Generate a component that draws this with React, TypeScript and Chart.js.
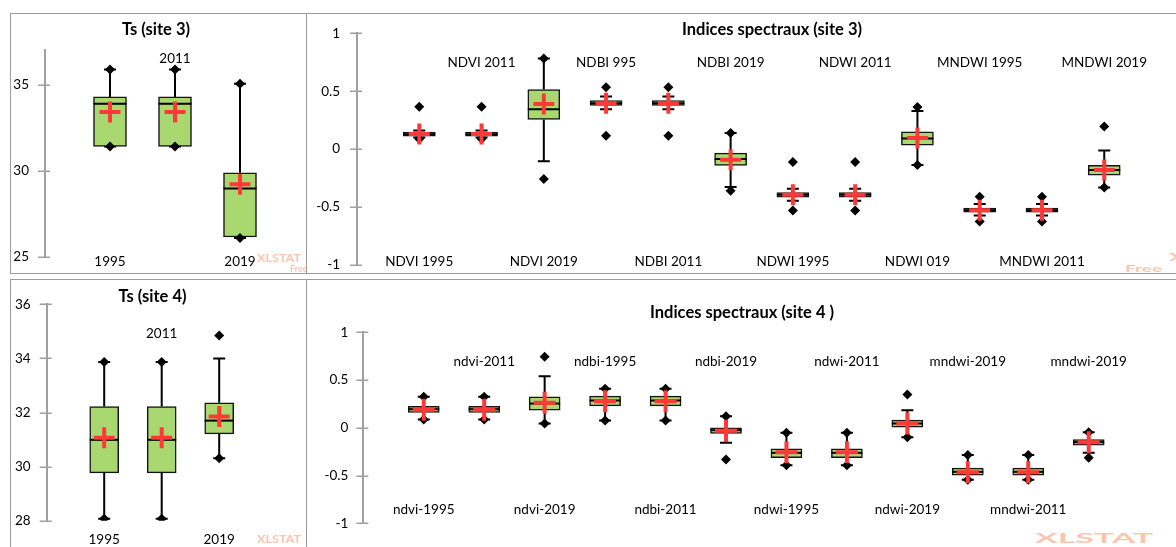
import React, { useEffect, useRef } from "react";
import { Chart, registerables } from "chart.js";
Chart.register(...registerables);

// ---------------- DATA ----------------
// Ts (site 3)
const ts3Labels = ["1995", "2011", "2019"];
const ts3WhiskerLow = [31.41, 31.41, 26.1];
const ts3Q1 = [31.41, 31.41, 26.16];
const ts3Median = [33.88, 33.88, 28.97];
const ts3Q3 = [34.28, 34.28, 29.88];
const ts3WhiskerHigh = [35.87, 35.87, 35.04];
const ts3Mean = [33.4, 33.4, 29.22];
const ts3Min = [31.41, 31.41, 26.1];
const ts3Max = [35.87, 35.87, 35.04];
const ts3Ticks = [25, 30, 35];

// Indices spectraux (site 3)
const idx3Labels = ["NDVI 1995", "NDVI 2011", "NDVI 2019", "NDBI 995", "NDBI 2011", "NDBI 2019", "NDWI 1995", "NDWI 2011", "NDWI 019", "MNDWI 1995", "MNDWI 2011", "MNDWI 2019"];
const idx3WhiskerLow = [0.1, 0.1, -0.104, 0.345, 0.345, -0.328, -0.446, -0.446, -0.138, -0.573, -0.573, -0.332];
const idx3Q1 = [0.111, 0.111, 0.256, 0.378, 0.378, -0.141, -0.415, -0.415, 0.035, -0.545, -0.545, -0.225];
const idx3Median = [0.128, 0.128, 0.345, 0.397, 0.397, -0.086, -0.395, -0.395, 0.092, -0.527, -0.527, -0.181];
const idx3Q3 = [0.147, 0.147, 0.515, 0.418, 0.418, -0.035, -0.375, -0.375, 0.149, -0.51, -0.51, -0.141];
const idx3WhiskerHigh = [0.16, 0.16, 0.783, 0.454, 0.454, 0.138, -0.343, -0.343, 0.33, -0.475, -0.475, -0.012];
const idx3Mean = [0.13, 0.13, 0.389, 0.397, 0.397, -0.092, -0.395, -0.395, 0.095, -0.527, -0.527, -0.18];
const idx3Min = [0.087, 0.087, -0.259, 0.115, 0.115, -0.36, -0.53, -0.53, -0.138, -0.625, -0.625, -0.332];
const idx3Max = [0.365, 0.365, 0.783, 0.535, 0.535, 0.138, -0.112, -0.112, 0.363, -0.412, -0.412, 0.195];
const idx3Ticks = [-1, -0.5, 0, 0.5, 1];

// Ts (site 4)
const ts4Labels = ["1995", "2011", "2019"];
const ts4WhiskerLow = [28.07, 28.07, 30.31];
const ts4Q1 = [29.77, 29.77, 31.21];
const ts4Median = [30.99, 30.99, 31.7];
const ts4Q3 = [32.22, 32.22, 32.36];
const ts4WhiskerHigh = [33.87, 33.87, 34.0];
const ts4Mean = [31.07, 31.07, 31.85];
const ts4Min = [28.07, 28.07, 30.31];
const ts4Max = [33.87, 33.87, 34.85];
const ts4Ticks = [28, 30, 32, 34, 36];

// Indices spectraux (site 4 )
const idx4Labels = ["ndvi-1995", "ndvi-2011", "ndvi-2019", "ndbi-1995", "ndbi-2011", "ndbi-2019", "ndwi-1995", "ndwi-2011", "ndwi-2019", "mndwi-2019", "mndwi-2011", "mndwi-2019"];
const idx4WhiskerLow = [0.087, 0.087, 0.045, 0.076, 0.076, -0.157, -0.391, -0.391, -0.098, -0.545, -0.545, -0.262];
const idx4Q1 = [0.16, 0.16, 0.184, 0.23, 0.23, -0.06, -0.314, -0.314, 0.006, -0.496, -0.496, -0.182];
const idx4Median = [0.195, 0.195, 0.254, 0.286, 0.286, -0.025, -0.262, -0.262, 0.045, -0.461, -0.461, -0.15];
const idx4Q3 = [0.226, 0.226, 0.325, 0.331, 0.331, 0.0, -0.22, -0.22, 0.08, -0.423, -0.423, -0.123];
const idx4WhiskerHigh = [0.325, 0.325, 0.54, 0.408, 0.408, 0.122, -0.052, -0.052, 0.184, -0.285, -0.285, -0.046];
const idx4Mean = [0.19, 0.19, 0.262, 0.279, 0.279, -0.03, -0.255, -0.255, 0.045, -0.465, -0.465, -0.15];
const idx4Min = [0.087, 0.087, 0.045, 0.076, 0.076, -0.332, -0.391, -0.391, -0.098, -0.545, -0.545, -0.314];
const idx4Max = [0.325, 0.325, 0.743, 0.408, 0.408, 0.122, -0.052, -0.052, 0.349, -0.285, -0.285, -0.046];
const idx4Ticks = [-1, -0.5, 0, 0.5, 1];

// ---------------- STYLE ----------------
const GREEN = "#a9d870";
const RED = "#ff3838";
const AXIS = "#a0a0a0";
const PANEL_BORDER = "#9a9a9a";
const WM = "rgba(247,150,105,0.55)";
const FONT = "Lato, 'Open Sans', sans-serif";

type Spec = {
  title: string;
  labels: string[];
  wl: number[]; q1: number[]; med: number[]; q3: number[]; wh: number[];
  mean: number[]; min: number[]; max: number[];
  ticks: number[]; yMin: number; yMax: number;
};

type WmItem = { text: string; x: number; y: number; size: number; sx: number };

type Lay = {
  panel: { l: number; t: number; w: number; h: number };
  canvas: { x: number; y: number; w: number; h: number };
  areaL: number; areaT: number; areaB: number;
  spacing: number; xMax: number;
  barW: number; cap: number; crossR: number;
  titleX: number; titleY: number;
  topLabelY: number; bottomLabelY: number;
  tickPad: number;
  wm: WmItem[];
};

const specs: Spec[] = [
  { title: "Ts (site 3)", labels: ts3Labels, wl: ts3WhiskerLow, q1: ts3Q1, med: ts3Median, q3: ts3Q3, wh: ts3WhiskerHigh, mean: ts3Mean, min: ts3Min, max: ts3Max, ticks: ts3Ticks, yMin: 25, yMax: 37 },
  { title: "Indices spectraux (site 3)", labels: idx3Labels, wl: idx3WhiskerLow, q1: idx3Q1, med: idx3Median, q3: idx3Q3, wh: idx3WhiskerHigh, mean: idx3Mean, min: idx3Min, max: idx3Max, ticks: idx3Ticks, yMin: -1, yMax: 1 },
  { title: "Ts (site 4)", labels: ts4Labels, wl: ts4WhiskerLow, q1: ts4Q1, med: ts4Median, q3: ts4Q3, wh: ts4WhiskerHigh, mean: ts4Mean, min: ts4Min, max: ts4Max, ticks: ts4Ticks, yMin: 28, yMax: 36 },
  { title: "Indices spectraux (site 4 )", labels: idx4Labels, wl: idx4WhiskerLow, q1: idx4Q1, med: idx4Median, q3: idx4Q3, wh: idx4WhiskerHigh, mean: idx4Mean, min: idx4Min, max: idx4Max, ticks: idx4Ticks, yMin: -1, yMax: 1 },
];

const layouts: Lay[] = [
  {
    panel: { l: 10, t: 13, w: 297, h: 261 },
    canvas: { x: 11, y: 14, w: 295, h: 259 },
    areaL: 45, areaT: 50, areaB: 257, spacing: 65, xMax: 4,
    barW: 33, cap: 6, crossR: 10.5,
    titleX: 156, titleY: 30, topLabelY: 59, bottomLabelY: 262, tickPad: 16,
    wm: [{ text: "XLSTAT", x: 257, y: 258, size: 12, sx: 1.05 }, { text: "Free", x: 290, y: 269, size: 9, sx: 1 }],
  },
  {
    panel: { l: 306, t: 13, w: 890, h: 261 },
    canvas: { x: 307, y: 14, w: 869, h: 259 },
    areaL: 357, areaT: 33.3, areaB: 265, spacing: 62.27, xMax: 13,
    barW: 32, cap: 6, crossR: 10.5,
    titleX: 772, titleY: 30, topLabelY: 63, bottomLabelY: 262, tickPad: 17,
    wm: [{ text: "XLSTAT", x: 1169, y: 257, size: 12, sx: 2 }, { text: "Free", x: 1125, y: 269, size: 10, sx: 1.9 }],
  },
  {
    panel: { l: 10, t: 279, w: 297, h: 280 },
    canvas: { x: 11, y: 280, w: 295, h: 267 },
    areaL: 46.7, areaT: 304.3, areaB: 520.7, spacing: 57.5, xMax: 4.5,
    barW: 29, cap: 6, crossR: 10.5,
    titleX: 152.5, titleY: 297, topLabelY: 334, bottomLabelY: 540, tickPad: 16,
    wm: [{ text: "XLSTAT", x: 257, y: 539, size: 12, sx: 1.05 }],
  },
  {
    panel: { l: 306, t: 279, w: 890, h: 280 },
    canvas: { x: 307, y: 280, w: 869, h: 267 },
    areaL: 363.3, areaT: 332.3, areaB: 523.3, spacing: 60.45, xMax: 13,
    barW: 31, cap: 6, crossR: 11,
    titleX: 742, titleY: 313, topLabelY: 361.5, bottomLabelY: 510, tickPad: 15,
    wm: [{ text: "XLSTAT", x: 1035, y: 539, size: 13, sx: 2.6 }],
  },
];

function BoxChart({ spec, lay }: { spec: Spec; lay: Lay }) {
  const ref = useRef<HTMLCanvasElement>(null);
  useEffect(() => {
    const canvas = ref.current!;
    const n = spec.labels.length;
    const xs = spec.labels.map((_, i) => i + 1);
    const cx = lay.canvas.x;
    const cy = lay.canvas.y;
    const areaR = lay.areaL + lay.xMax * lay.spacing;

    const extras = {
      id: "boxExtras",
      beforeDatasetsDraw(chart: any) {
        const { ctx } = chart;
        const x = chart.scales.x;
        const y = chart.scales.y;
        ctx.save();
        ctx.strokeStyle = "#000";
        ctx.lineWidth = 2;
        for (let i = 0; i < n; i++) {
          const px = x.getPixelForValue(xs[i]);
          const yl = y.getPixelForValue(spec.wl[i]);
          const y1 = y.getPixelForValue(spec.q1[i]);
          const y3 = y.getPixelForValue(spec.q3[i]);
          const yh = y.getPixelForValue(spec.wh[i]);
          ctx.beginPath();
          ctx.moveTo(px, yl); ctx.lineTo(px, y1);
          ctx.moveTo(px, y3); ctx.lineTo(px, yh);
          ctx.moveTo(px - lay.cap, yl); ctx.lineTo(px + lay.cap, yl);
          ctx.moveTo(px - lay.cap, yh); ctx.lineTo(px + lay.cap, yh);
          ctx.stroke();
        }
        ctx.restore();
      },
      afterDatasetDraw(chart: any, args: any) {
        if (args.index !== 2) return;
        const { ctx } = chart;
        const x = chart.scales.x;
        const y = chart.scales.y;
        ctx.save();
        ctx.strokeStyle = "#000";
        ctx.lineWidth = 2;
        for (let i = 0; i < n; i++) {
          const px = x.getPixelForValue(xs[i]);
          const pm = y.getPixelForValue(spec.med[i]);
          ctx.beginPath();
          ctx.moveTo(px - lay.barW / 2, pm);
          ctx.lineTo(px + lay.barW / 2, pm);
          ctx.stroke();
        }
        ctx.restore();
      },
      afterDraw(chart: any) {
        const { ctx } = chart;
        const x = chart.scales.x;
        const y = chart.scales.y;
        const ax = chart.chartArea.left;
        ctx.save();
        // tick marks crossing the axis
        ctx.strokeStyle = AXIS;
        ctx.lineWidth = 1.5;
        ctx.beginPath();
        y.ticks.forEach((t: any) => {
          const py = Math.round(y.getPixelForValue(t.value)) + 0.25;
          ctx.moveTo(ax - 7, py);
          ctx.lineTo(ax + 5, py);
        });
        ctx.stroke();
        // category labels (alternating)
        ctx.fillStyle = "#000";
        ctx.font = `13.5px ${FONT}`;
        ctx.textAlign = "center";
        ctx.textBaseline = "middle";
        spec.labels.forEach((lab, i) => {
          const px = x.getPixelForValue(xs[i]);
          const py = (i % 2 === 0 ? lay.bottomLabelY : lay.topLabelY) - cy;
          ctx.fillText(lab, px, py);
        });
        // title
        ctx.font = `bold 16.5px ${FONT}`;
        ctx.fillText(spec.title, lay.titleX - cx, lay.titleY - cy);
        // watermark
        ctx.fillStyle = WM;
        ctx.textAlign = "left";
        lay.wm.forEach((w) => {
          ctx.save();
          ctx.translate(w.x - cx, w.y - cy);
          ctx.scale(w.sx, 1);
          ctx.font = `bold ${w.size}px ${FONT}`;
          ctx.fillText(w.text, 0, 0);
          ctx.restore();
        });
        ctx.restore();
      },
    };

    const chart = new Chart(canvas, {
      type: "bar",
      data: {
        datasets: [
          {
            type: "scatter",
            data: xs.map((xv, i) => ({ x: xv, y: spec.mean[i] })),
            pointStyle: "cross",
            pointRadius: lay.crossR,
            pointHoverRadius: lay.crossR,
            pointBorderWidth: 4,
            pointBorderColor: RED,
            pointBackgroundColor: RED,
            borderColor: RED,
          } as any,
          {
            type: "scatter",
            data: [
              ...xs.map((xv, i) => ({ x: xv, y: spec.min[i] })),
              ...xs.map((xv, i) => ({ x: xv, y: spec.max[i] })),
            ],
            pointStyle: "rectRot",
            pointRadius: 5,
            pointHoverRadius: 5,
            pointBorderWidth: 0,
            pointBackgroundColor: "#000",
            pointBorderColor: "#000",
          } as any,
          {
            type: "bar",
            data: xs.map((xv, i) => ({ x: xv, y: [spec.q1[i], spec.q3[i]] })),
            backgroundColor: GREEN,
            borderColor: "#141414",
            borderWidth: 1.5,
            borderSkipped: false,
            barThickness: lay.barW,
          } as any,
        ],
      },
      options: {
        responsive: false,
        animation: false,
        events: [],
        layout: {
          autoPadding: false,
          padding: {
            left: 0,
            top: lay.areaT - cy,
            right: cx + lay.canvas.w - areaR,
            bottom: cy + lay.canvas.h - lay.areaB,
          },
        },
        plugins: {
          legend: { display: false },
          tooltip: { enabled: false },
          title: { display: false },
        },
        scales: {
          x: {
            type: "linear",
            min: 0,
            max: lay.xMax,
            display: false,
            offset: false,
          },
          y: {
            type: "linear",
            min: spec.yMin,
            max: spec.yMax,
            afterFit: (s: any) => {
              s.width = lay.areaL - cx;
            },
            afterBuildTicks: (s: any) => {
              s.ticks = spec.ticks.map((v) => ({ value: v }));
            },
            grid: { display: false, drawTicks: true, tickLength: lay.tickPad },
            border: { display: true, color: AXIS, width: 2 },
            ticks: {
              padding: 0,
              color: "#000",
              font: { family: FONT, size: 13.5 },
              callback: (v: any) => String(v),
            },
          },
        },
      } as any,
      plugins: [extras],
    });
    return () => chart.destroy();
  }, [spec, lay]);

  return (
    <canvas
      ref={ref}
      width={lay.canvas.w}
      height={lay.canvas.h}
      style={{
        position: "absolute",
        left: lay.canvas.x,
        top: lay.canvas.y,
        width: lay.canvas.w,
        height: lay.canvas.h,
      }}
    />
  );
}

export default function App() {
  return (
    <div
      style={{
        position: "absolute",
        left: 0,
        top: 0,
        width: 1176,
        height: 547,
        overflow: "hidden",
        background: "#fff",
      }}
    >
      {layouts.map((lay, i) => (
        <div
          key={"p" + i}
          style={{
            position: "absolute",
            left: lay.panel.l,
            top: lay.panel.t,
            width: lay.panel.w,
            height: lay.panel.h,
            border: `1px solid ${PANEL_BORDER}`,
            boxSizing: "border-box",
          }}
        />
      ))}
      {layouts.map((lay, i) => (
        <BoxChart key={"c" + i} spec={specs[i]} lay={lay} />
      ))}
    </div>
  );
}
